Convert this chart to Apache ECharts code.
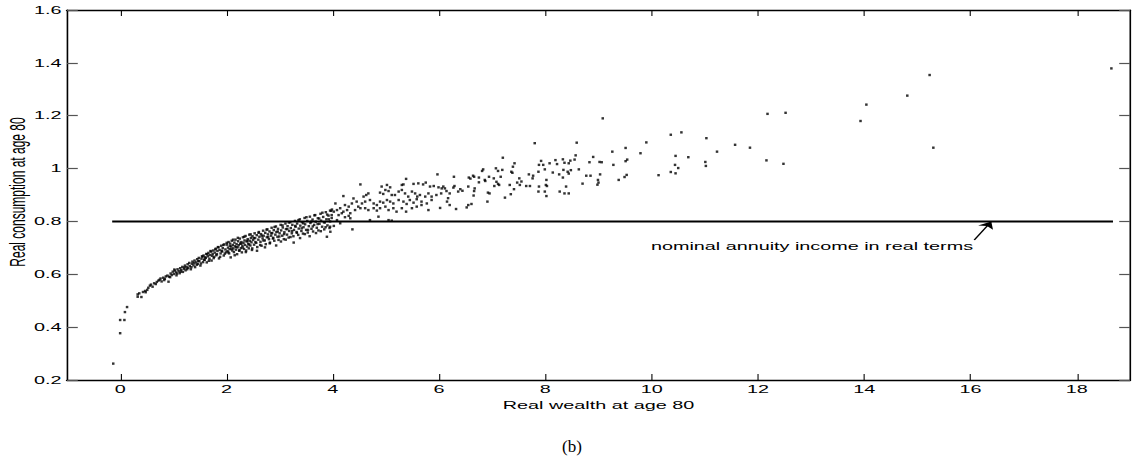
<!DOCTYPE html>
<html lang="en">
<head>
<meta charset="UTF-8">
<title>Real consumption at age 80</title>
<script src="https://cdn.jsdelivr.net/npm/echarts@6/dist/echarts.min.js"></script>
<style>
    html, body { margin: 0; padding: 0; background: #fff; overflow: hidden; }
    /* the original figure is stretched sideways, so draw it narrow and widen it */
    #main { width: 630px; height: 473px; transform: scaleX(1.7984); transform-origin: 0 0; }
</style>
</head>
<body>
<div id="main"></div>
<script type="text/javascript">
    var stretch = 1133 / 630;

    // [real wealth, real consumption]
    var tailPoints = [[-0.13,0.262],[0.00,0.377],[0.00,0.427],[0.08,0.427],[0.09,0.457],[0.13,0.476]];

    var bandLow = [
        [0.33,0.524],[0.33,0.515],[0.40,0.514],[0.43,0.533],[0.48,0.532],[0.47,0.537],[0.53,0.549],[0.56,0.557],
        [0.61,0.553],[0.64,0.566],[0.67,0.563],[0.72,0.576],[0.74,0.579],[0.78,0.573],[0.81,0.587],[0.84,0.583],
        [0.86,0.592],[0.89,0.595],[0.92,0.591],[0.91,0.572],[0.95,0.603],[0.97,0.597],[0.99,0.610],[1.01,0.601],
        [1.03,0.614],[1.05,0.607],[1.06,0.596],[1.08,0.619],[1.10,0.612],[1.12,0.604],[1.13,0.623],[1.15,0.616],
        [1.17,0.628],[1.18,0.609],[1.20,0.621],[1.22,0.633],[1.23,0.615],[1.25,0.627],[1.27,0.638],[1.28,0.624],
        [1.30,0.643],[1.31,0.631],[1.33,0.619],[1.35,0.640],[1.36,0.648],[1.38,0.634],[1.40,0.652],[1.41,0.627],
        [1.43,0.645],[1.45,0.657],[1.46,0.639],[1.48,0.662],[1.49,0.650],[1.51,0.633],[1.53,0.659],[1.54,0.668],
        [1.56,0.646],[1.57,0.671],[1.59,0.655],[1.60,0.664],[1.62,0.677],[1.63,0.645],[1.65,0.668],[1.66,0.681],
        [1.68,0.659],[1.69,0.673],[1.71,0.686],[1.72,0.652],[1.74,0.677],[1.75,0.690],[1.77,0.666],[1.78,0.682],
        [1.80,0.697],[1.81,0.672],[1.83,0.688],[1.84,0.703],[1.86,0.660],[1.87,0.692],[1.89,0.679],[1.90,0.708],
        [1.92,0.686],[1.93,0.699],[1.95,0.671],[1.96,0.713],[1.98,0.694],[1.99,0.683],
        [0.36,0.528],[0.51,0.541],[0.58,0.561],[0.69,0.571],[0.76,0.584],[0.83,0.578],[0.94,0.589],[1.02,0.618],
        [1.07,0.603],[1.14,0.610],[1.21,0.626],[1.26,0.619],[1.34,0.627],[1.39,0.643],[1.44,0.636],[1.47,0.650]
    ];

    var bandFill = [
        [1.52,0.641],[1.55,0.667],[1.58,0.655],[1.61,0.662],[1.64,0.676],[1.67,0.651],[1.70,0.688],[1.73,0.670],
        [1.76,0.661],[1.79,0.694],[1.82,0.676],[1.85,0.702],[1.88,0.666],[1.91,0.689],[1.94,0.711],[1.97,0.678],
        [2.005,0.719],[2.035,0.683],[2.065,0.707],[2.095,0.696],[2.125,0.731],[2.155,0.672],[2.185,0.703],[2.215,0.738],
        [2.245,0.691],[2.275,0.716],[2.305,0.701],[2.335,0.742],[2.365,0.684],[2.395,0.727],[2.425,0.713],[2.455,0.751],
        [2.485,0.698],[2.515,0.737],[2.545,0.722],[2.575,0.689],[2.605,0.757],[2.635,0.711],[2.665,0.746],[2.695,0.728],
        [2.725,0.702],[2.755,0.769],[2.785,0.741],[2.815,0.717],[2.845,0.755],[2.875,0.735],[2.905,0.779],[2.935,0.709],
        [2.965,0.762],[2.995,0.743],[3.025,0.724],[3.055,0.785],[3.085,0.752],[3.115,0.731],[3.145,0.771],[3.175,0.796],
        [3.205,0.741],[3.235,0.763],[3.265,0.720],[3.295,0.783],[3.325,0.757],[3.355,0.805],[3.385,0.737],[3.415,0.774],
        [3.445,0.793],[3.475,0.752],[3.505,0.816],[3.535,0.768],[3.565,0.744],[3.595,0.799],[3.625,0.781],[3.655,0.823],
        [3.685,0.756],[3.715,0.790],[3.745,0.811],[3.775,0.763],[3.805,0.833],[3.835,0.797],[3.865,0.778],[3.895,0.826],
        [3.925,0.808],[3.955,0.761],[3.985,0.845]
    ];

    var bandMid = [
        [2.01,0.712],[2.02,0.688],[2.03,0.701],[2.04,0.722],[2.05,0.679],[2.06,0.695],[2.07,0.716],[2.08,0.664],
        [2.09,0.705],[2.10,0.727],[2.11,0.690],[2.12,0.711],[2.13,0.698],[2.14,0.684],[2.15,0.720],[2.16,0.706],
        [2.17,0.731],[2.18,0.693],[2.19,0.714],[2.20,0.676],[2.21,0.702],[2.22,0.725],[2.23,0.710],[2.24,0.689],
        [2.25,0.735],[2.26,0.716],[2.27,0.699],[2.28,0.722],[2.29,0.683],[2.30,0.708],[2.31,0.740],[2.32,0.719],
        [2.33,0.696],[2.34,0.728],[2.35,0.711],[2.36,0.745],[2.37,0.690],[2.38,0.724],[2.39,0.705],[2.40,0.733],
        [2.41,0.716],[2.42,0.698],[2.43,0.750],[2.44,0.727],[2.45,0.709],[2.46,0.738],[2.47,0.721],[2.48,0.692],
        [2.49,0.744],[2.50,0.730],[2.52,0.712],[2.53,0.755],[2.54,0.737],[2.56,0.719],[2.57,0.748],[2.58,0.703],
        [2.60,0.731],[2.61,0.760],[2.62,0.742],[2.64,0.723],[2.65,0.752],[2.66,0.708],[2.68,0.736],[2.69,0.765],
        [2.70,0.746],[2.72,0.728],[2.73,0.757],[2.74,0.714],[2.76,0.740],[2.77,0.770],[2.78,0.751],[2.80,0.733],
        [2.81,0.762],[2.82,0.720],[2.84,0.746],[2.85,0.776],[2.86,0.756],[2.88,0.738],[2.89,0.767],[2.90,0.727],
        [2.92,0.750],[2.93,0.781],[2.94,0.760],[2.96,0.742],[2.97,0.772],[2.98,0.730],[3.00,0.755],[3.02,0.787],
        [3.03,0.766],[3.05,0.746],[3.06,0.777],[3.08,0.733],[3.09,0.759],[3.11,0.792],[3.12,0.771],[3.14,0.750],
        [3.15,0.782],[3.17,0.739],[3.18,0.764],[3.20,0.797],[3.21,0.775],[3.23,0.755],[3.24,0.787],[3.26,0.744],
        [3.27,0.768],[3.29,0.802],[3.30,0.780],[3.32,0.760],[3.33,0.792],[3.35,0.749],[3.36,0.773],[3.38,0.808],
        [3.39,0.784],[3.41,0.764],[3.42,0.797],[3.44,0.754],[3.45,0.778],[3.47,0.813],[3.48,0.789],[3.50,0.768],
        [3.52,0.802],[3.53,0.758],[3.55,0.782],[3.57,0.818],[3.58,0.794],[3.60,0.772],[3.62,0.807],[3.63,0.762],
        [3.65,0.787],[3.67,0.824],[3.68,0.799],[3.70,0.776],[3.72,0.812],[3.73,0.766],[3.75,0.791],[3.77,0.829],
        [3.78,0.803],[3.80,0.780],[3.82,0.817],[3.84,0.770],[3.85,0.796],[3.87,0.835],[3.88,0.808],[3.90,0.785],
        [3.92,0.822],[3.94,0.775],[3.95,0.800],[3.97,0.840],[3.98,0.813],[3.89,0.742]
    ];

    var bandHigh = [
        [5.30,0.938],[5.33,0.940],[5.52,0.942],[5.61,0.944],[5.70,0.940],[5.75,0.947],[5.83,0.932],[5.90,0.934],
        [5.99,0.929],[4.92,0.932],[5.02,0.938],[4.99,0.919],[5.05,0.915],[5.08,0.929],[4.89,0.909],[4.95,0.904],
        [5.11,0.900],[5.17,0.900],[5.24,0.913],[5.30,0.919],[5.36,0.906],[5.42,0.894],[5.49,0.913],[5.55,0.906],
        [5.59,0.894],[5.64,0.900],[5.74,0.894],[5.80,0.906],[5.86,0.894],[5.95,0.900],[5.86,0.881],[5.77,0.868],
        [5.67,0.875],[5.58,0.884],[5.52,0.871],[5.45,0.881],[5.39,0.866],[5.33,0.875],[5.24,0.881],[5.14,0.868],
        [5.08,0.875],[5.02,0.881],[4.95,0.871],[4.89,0.875],[4.83,0.862],[4.77,0.868],[4.70,0.881],[4.67,0.906],
        [4.63,0.900],[4.58,0.894],[4.61,0.875],[4.55,0.868],[4.48,0.856],[4.45,0.875],[4.39,0.887],[4.36,0.868],
        [4.30,0.856],[4.23,0.862],[4.20,0.837],[4.14,0.850],[4.08,0.843],[4.05,0.868],[4.02,0.837],[3.95,0.841],
        [3.98,0.824],[4.11,0.824],[4.17,0.831],[4.27,0.843],[4.33,0.831],[4.42,0.843],[4.52,0.850],[4.61,0.850],
        [4.67,0.843],[4.77,0.850],[4.83,0.841],[4.89,0.850],[4.99,0.856],[5.05,0.843],[5.14,0.850],[5.20,0.837],
        [5.30,0.850],[5.38,0.837],[5.49,0.850],[5.58,0.856],[5.67,0.862],[5.80,0.843],[4.70,0.805],[4.86,0.818],
        [5.05,0.805],[5.11,0.803],[4.08,0.805],[4.14,0.793],[3.95,0.780],[4.02,0.783],[4.23,0.816],[4.30,0.821],
        [4.33,0.812],[4.52,0.940],[4.37,0.770],[5.97,0.978],[5.38,0.961],[4.20,0.896]
    ];

    var spreadPoints = [
        [6.28,0.969],[6.40,0.922],[6.36,0.913],[6.44,0.916],[6.29,0.934],[6.27,0.928],[6.20,0.906],[6.14,0.915],
        [6.11,0.925],[6.05,0.925],[6.04,0.906],[6.17,0.888],[6.15,0.875],[6.20,0.862],[6.32,0.847],[6.08,0.932],
        [6.02,0.851],[6.52,0.853],[6.55,0.862],[6.61,0.866],[6.91,0.875],[6.92,0.909],[6.95,0.906],[6.55,0.932],
        [6.65,0.898],[6.66,0.915],[6.67,0.925],[6.75,0.966],[6.75,0.948],[6.86,0.957],[6.87,0.953],[6.94,0.969],
        [7.03,0.963],[7.08,0.950],[7.11,0.942],[7.13,0.938],[7.04,0.934],[7.16,0.969],[7.24,0.890],[7.35,0.903],
        [7.41,0.922],[7.33,0.938],[7.47,0.947],[7.51,0.963],[7.52,0.938],[7.55,0.951],[7.64,0.934],[7.71,0.934],
        [7.76,0.963],[7.69,0.978],[7.77,0.973],[7.87,0.988],[7.99,0.997],[7.92,1.029],[7.88,1.014],[7.96,1.014],
        [8.08,1.020],[8.19,1.032],[8.22,1.017],[8.33,1.035],[8.36,1.022],[8.44,1.020],[8.14,0.985],[8.26,0.978],
        [8.34,0.995],[8.42,0.988],[8.02,0.957],[8.01,0.938],[8.03,0.934],[7.88,0.932],[7.99,0.913],[7.87,0.913],
        [8.02,0.896],[8.27,0.913],[8.39,0.932],[8.44,0.906],[7.80,1.096],[7.20,1.041],[7.42,1.020],[7.39,1.007],
        [7.36,0.988],[7.38,0.984],[7.07,1.001],[7.11,0.991],[7.19,0.995],[6.83,0.997],[6.81,0.991],[6.64,0.973],
        [6.66,0.969],[6.56,0.966],[6.59,0.962],[8.59,1.098],[8.57,1.050],[8.55,1.034],[8.47,1.030],[8.48,0.994],
        [8.44,0.981],[8.33,0.966],[8.36,0.906],[8.90,1.044],[8.83,1.024],[8.99,0.957],[8.77,0.973],[8.85,0.973],
        [8.70,0.943],[8.63,0.997],[8.98,0.939]
    ];

    var farPoints = [
        [9.08,1.190],[12.18,1.207],[12.52,1.211],[10.36,1.128],[10.56,1.137],[11.03,1.115],[9.90,1.099],[11.57,1.090],
        [11.85,1.079],[9.51,1.078],[11.23,1.064],[9.26,1.064],[9.79,1.058],[10.45,1.048],[10.69,1.043],[12.16,1.031],
        [9.54,1.034],[12.48,1.018],[11.01,1.025],[11.02,1.010],[9.02,1.025],[9.06,1.024],[9.28,1.014],[9.51,1.028],
        [10.44,1.014],[10.50,1.002],[10.36,0.987],[10.45,0.982],[10.13,0.975],[9.53,0.976],[9.49,0.968],[9.38,0.957],
        [9.03,0.978],[9.00,0.947],[15.23,1.354],[14.81,1.276],[14.04,1.242],[13.93,1.180],[15.30,1.079],[18.65,1.379]
    ];

    // horizontal line: nominal annuity income in real terms
    var annuityLine = [[-0.15, 0.8], [18.68, 0.8]];
    var arrowFrom = [16.07, 0.73];
    var arrowTo = [16.39, 0.80];
    var xTicks = [0, 2, 4, 6, 8, 10, 12, 14, 16, 18];

    var allPoints = tailPoints.concat(bandLow, bandFill, bandMid, bandHigh, spreadPoints, farPoints);

    var myChart = echarts.init(document.getElementById('main'), null, {renderer: 'svg'});

    var labelFont = {fontFamily: 'Liberation Sans', fontSize: 11, color: '#000'};
    var boxLine = {show: true, onZero: false, lineStyle: {color: '#000', width: 1.4}};
    var yBoxLine = {show: true, onZero: false, lineStyle: {color: '#000', width: 0.9}};

    var option = {
        animation: false,
        grid: {
            left: 67 / stretch, right: 3 / stretch, top: 10, bottom: 93,
            containLabel: false, outerBoundsMode: 'none'
        },
        xAxis: [
            {
                type: 'value', min: -1, max: 19, position: 'bottom',
                name: 'Real wealth at age 80', nameLocation: 'middle', nameGap: 19,
                nameTextStyle: {fontFamily: 'Liberation Sans', fontSize: 11, color: '#000'},
                axisLine: boxLine,
                axisTick: {show: true, inside: true, length: 6, customValues: xTicks, lineStyle: {color: '#000', width: 0.6}},
                axisLabel: Object.assign({customValues: xTicks, margin: 4}, labelFont),
                splitLine: {show: false}
            },
            {
                type: 'value', min: -1, max: 19, position: 'top',
                axisLine: boxLine,
                axisTick: {show: true, inside: true, length: 6, customValues: xTicks, lineStyle: {color: '#000', width: 0.6}},
                axisLabel: {show: false},
                splitLine: {show: false}
            }
        ],
        yAxis: [
            {
                type: 'value', min: 0.2, max: 1.6, interval: 0.2, position: 'left',
                axisLine: yBoxLine,
                axisTick: {show: true, inside: true, length: 6, lineStyle: {color: '#555', width: 1.2}},
                axisLabel: Object.assign({margin: 3}, labelFont),
                splitLine: {show: false}
            },
            {
                type: 'value', min: 0.2, max: 1.6, interval: 0.2, position: 'right',
                axisLine: yBoxLine,
                axisTick: {show: true, inside: true, length: 6, lineStyle: {color: '#555', width: 1.2}},
                axisLabel: {show: false},
                splitLine: {show: false}
            }
        ],
        series: [
            {
                name: 'households',
                type: 'scatter',
                data: allPoints,
                symbol: 'rect',
                symbolSize: [1.4, 2.4],
                itemStyle: {color: '#000'},
                silent: true
            },
            {
                name: 'annuity',
                type: 'line',
                data: annuityLine,
                symbol: 'none',
                lineStyle: {color: '#000', width: 2},
                silent: true,
                markLine: {
                    silent: true,
                    symbol: ['none', 'arrow'],
                    symbolSize: 7,
                    label: {show: false},
                    lineStyle: {color: '#000', width: 0.9, type: 'solid'},
                    data: [[{coord: arrowFrom}, {coord: arrowTo}]]
                }
            }
        ],
        graphic: [
            {
                // y axis title, turned upright
                type: 'text', x: 18 / stretch, y: 192, rotation: Math.PI / 2,
                style: {text: 'Real consumption at age 80', fontFamily: 'Liberation Sans', fontSize: 12,
                    fill: '#000', align: 'center', verticalAlign: 'middle'}
            },
            {
                type: 'text', x: 812 / stretch, y: 246,
                style: {text: 'nominal annuity income in real terms', fontFamily: 'Liberation Sans', fontSize: 11,
                    fill: '#000', align: 'center', verticalAlign: 'middle'}
            },
            {
                type: 'text', x: 572 / stretch, y: 446, scaleX: 1 / stretch,
                style: {text: '(b)', fontFamily: 'Liberation Serif', fontSize: 17, fill: '#000',
                    align: 'center', verticalAlign: 'middle'}
            }
        ]
    };
    myChart.setOption(option);
</script>
</body>
</html>
